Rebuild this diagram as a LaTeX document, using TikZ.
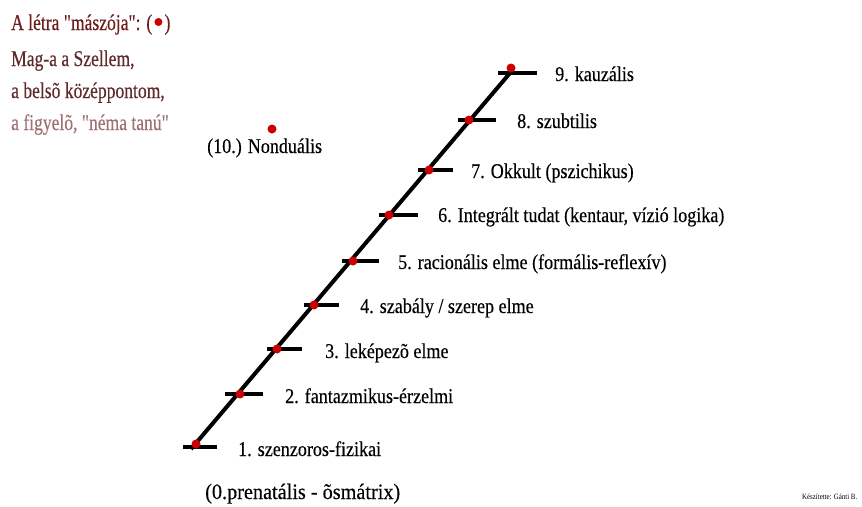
\documentclass[tikz,border=0pt]{standalone}
\usepackage{fontspec}
\setmainfont{Liberation Serif}
\newfontfamily\condA{Liberation Serif}[FakeStretch=0.86,FakeBold=0.3]
\newfontfamily\condB{Liberation Serif}[FakeStretch=0.78,FakeBold=0.3]
\newfontfamily\condC{Liberation Serif}[FakeStretch=0.92,FakeBold=0.3]
\newfontfamily\condD{Liberation Serif}[FakeStretch=0.86]
\usetikzlibrary{calc}
\definecolor{dotred}{HTML}{CC0000}
\definecolor{maroonA}{HTML}{6E1C1C}
\definecolor{maroonB}{HTML}{5E2A2A}
\definecolor{maroonC}{HTML}{A07070}
\begin{document}
\begin{tikzpicture}[x=1pt,y=-1pt,
  lbl/.style={anchor=base west,inner sep=0pt,font=\condA\fontsize{21}{23}\selectfont},
  leg/.style={anchor=base west,inner sep=0pt,font=\condB\fontsize{22.5}{24}\selectfont},
  rung/.style={line width=4pt},
  rail/.style={line width=4pt},
  reddot/.style={fill=dotred}]
\useasboundingbox (0,0) rectangle (862,506);
% ladder rail
\coordinate (bot) at (191,449);
\coordinate (top) at (510,73);
\draw[rail] (bot) -- (top);
% rungs
\foreach \i/\a/\b/\y in {1/183/217/447, 2/225/263/394, 3/267/302/349, 4/304/339/305,
  5/342/379/261, 6/379/418/215, 7/418/453/170, 8/458/496/120, 9/498/537/73}{
  \coordinate (r\i a) at (\a,\y);
  \coordinate (r\i b) at (\b,\y);
  \draw[rung] (r\i a) -- (r\i b);
}
% climber dots
\foreach \i/\x/\y in {1/196/444, 2/240/394, 3/277/349, 4/314/305, 5/353/261,
  6/389/215, 7/429/170, 8/469/120, 9/511/68}{
  \fill[reddot] (\x,\y) circle (4.5);
}
% labels
\node[lbl] (l1) at (238,456) {1. szenzoros-fizikai};
\node[lbl] (l2) at (285,403) {2. fantazmikus-érzelmi};
\node[lbl] (l3) at (325,358) {3. leképezõ elme};
\node[lbl] (l4) at (360,313) {4. szabály / szerep elme};
\node[lbl] (l5) at (398,269) {5. racionális elme (formális-reflexív)};
\node[lbl] (l6) at (438,222) {6. Integrált tudat (kentaur, vízió logika)};
\node[lbl] (l7) at (471,178) {7. Okkult (pszichikus)};
\node[lbl] (l8) at (517,128) {8. szubtilis};
\node[lbl] (l9) at (555,81) {9. kauzális};
\node[lbl,font=\condC\fontsize{22}{24}\selectfont] (l0) at (205,499) {(0.prenatális - õsmátrix)};
\node[lbl] (l10) at (207,153) {(10.) Nonduális};
\fill[reddot] (272,129) circle (4.5);
% top-left legend
\node[leg,text=maroonA] (t1) at (11,30) {A létra "mászója": (};
\coordinate (dotc) at ($(t1.base east)+(6,-8)$);
\fill[reddot] (dotc) circle (4);
\node[leg,text=maroonA] (t1b) at ($(t1.base east)+(12,0)$) {)};
\node[leg,text=maroonB] (t2) at (11,66) {Mag-a a Szellem,};
\node[leg,text=maroonB] (t3) at (11,98) {a belsõ középpontom,};
\node[leg,text=maroonC] (t4) at (11,130) {a figyelõ, "néma tanú"};
% credit
\node[anchor=base west,inner sep=0pt,font=\condD\fontsize{8}{9}\selectfont] (cr) at (802,499) {Készítette: Gánti B.};
\end{tikzpicture}
\end{document}
